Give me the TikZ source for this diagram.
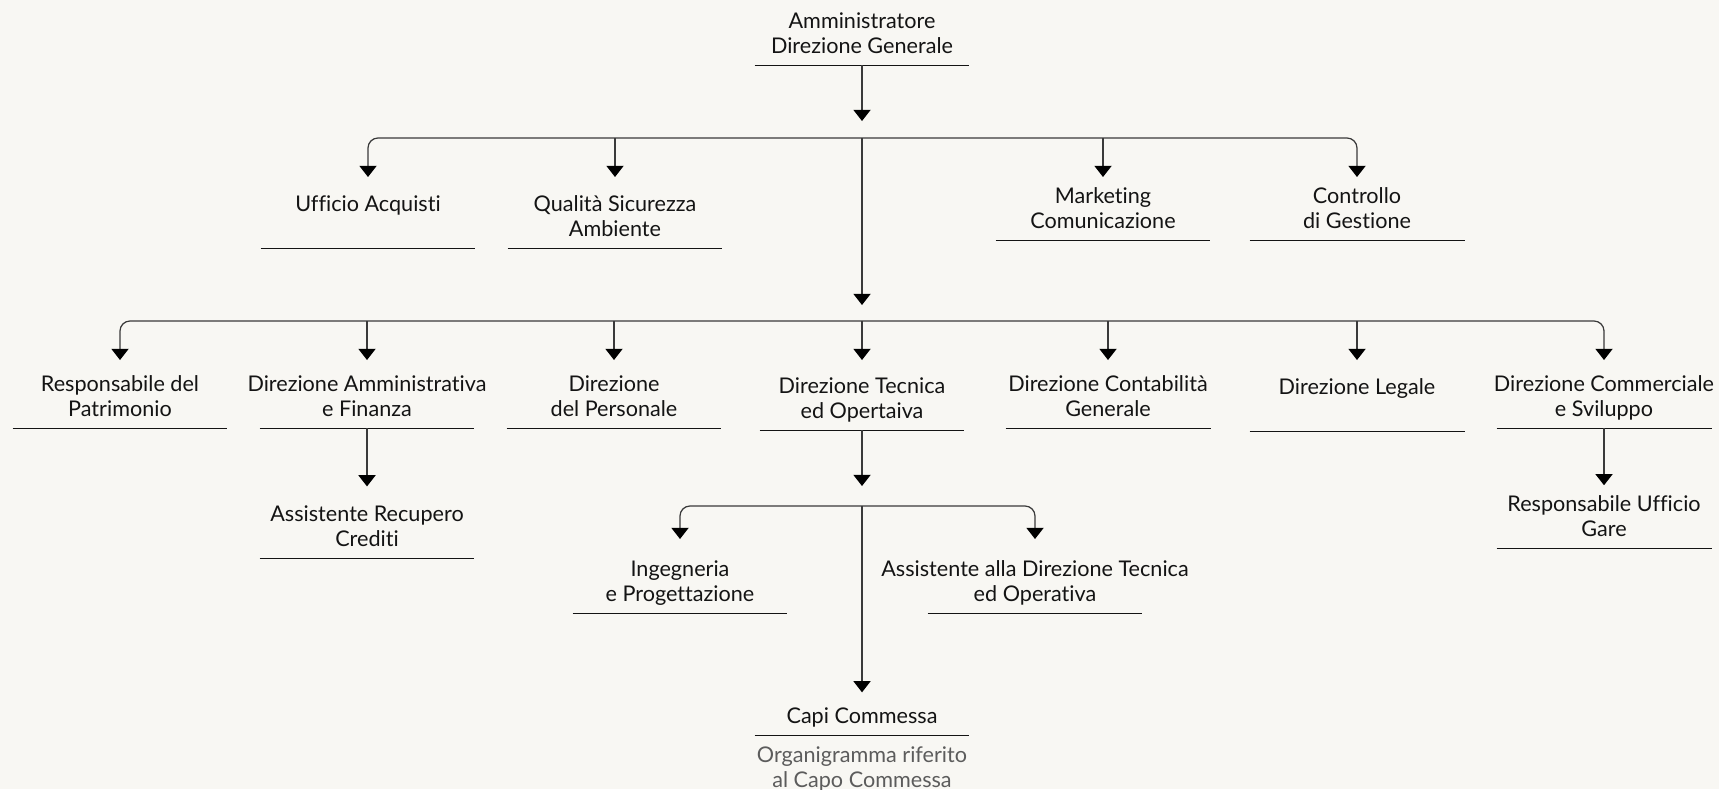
\documentclass[tikz,border=0pt]{standalone}
\usepackage{fontspec}
\setmainfont{Lato}[Ligatures=NoCommon]
\usetikzlibrary{arrows.meta,positioning}
\definecolor{bg}{HTML}{F8F7F3}
\definecolor{ink}{HTML}{141414}
\definecolor{wire}{HTML}{3A3A3A}
\definecolor{soft}{HTML}{5C5C5C}

\begin{document}
\begin{tikzpicture}[x=0.02cm, y=-0.02cm, >={Triangle[width=9.8pt,length=6.4pt,color=black]},
    unit/.style={anchor=south, align=center, minimum width=4.3cm, inner xsep=0pt, inner ysep=2pt,
        font=\fontsize{12.3}{14.5}\selectfont, text=ink, execute at end node=\strut},
    note/.style={align=center, inner sep=0pt, font=\fontsize{12.3}{14}\selectfont, text=soft},
    uline/.style={draw=ink, line width=0.5pt},
    link/.style={draw=wire, line width=0.7pt, ->},
    bus/.style={draw=wire, line width=0.7pt, <->, rounded corners=0.2cm}]

    \path[fill=bg, use as bounding box] (0,0) rectangle (1719,789);

    \node[unit] (top) at (862,65) {Amministratore\\Direzione Generale};

    \node[unit] (ua) at (368,248) {Ufficio Acquisti\\};
    \node[unit] (qs) at (615,248) {Qualità Sicurezza\\Ambiente};
    \node[unit] (mc) at (1103,240) {Marketing\\Comunicazione};
    \node[unit] (cg) at (1357,240) {Controllo\\di Gestione};

    \node[unit] (rp) at (120,428) {Responsabile del\\Patrimonio};
    \node[unit] (da) at (367,428) {Direzione Amministrativa\\e Finanza};
    \node[unit] (dp) at (614,428) {Direzione\\del Personale};
    \node[unit] (dt) at (862,430) {Direzione Tecnica\\ed Opertaiva};
    \node[unit] (dc) at (1108,428) {Direzione Contabilità\\Generale};
    \node[unit] (dl) at (1357,431) {Direzione Legale\\};
    \node[unit] (dco) at (1604,428) {Direzione Commerciale\\e Sviluppo};

    \node[unit] (ar) at (367,558) {Assistente Recupero\\Crediti};
    \node[unit] (rug) at (1604,548) {Responsabile Ufficio\\Gare};

    \node[unit] (ip) at (680,613) {Ingegneria\\e Progettazione};
    \node[unit] (ad) at (1035,613) {Assistente alla Direzione Tecnica\\ed Operativa};
    \node[unit] (cc) at (862,735) {Capi Commessa};
    \node[note, below=6.5pt of cc] (ccn) {Organigramma riferito\\al Capo Commessa};

    \foreach \n/\w in {top/2.15, ua/2.15, qs/2.15, mc/2.15, cg/2.15, rp/2.15, da/2.15, dp/2.15,
        dt/2.05, dc/2.05, dl/2.15, dco/2.15, ar/2.15, rug/2.15, ip/2.15, ad/2.15, cc/2.15}
        \draw[uline] ([xshift=-\w cm]\n.south) -- ([xshift=\w cm]\n.south);

    \coordinate (b1) at (862,138);
    \coordinate (t1) at (862,177);
    \coordinate (b2) at (862,321);
    \coordinate (t2) at (862,360);
    \coordinate (b3) at (862,506);
    \coordinate (t3) at (862,539);

    \draw[link, shorten >=0.34cm] (top) -- (b1);
    \draw[bus] (t1 -| ua) |- (b1 -| cg) -- (t1 -| cg);
    \draw[link] (b1 -| qs) -- (t1 -| qs);
    \draw[link] (b1 -| mc) -- (t1 -| mc);

    \draw[link, shorten >=0.32cm] (b1) -- (b2);
    \draw[bus] (t2 -| rp) |- (b2 -| dco) -- (t2 -| dco);
    \foreach \n in {da, dp, dt, dc, dl}
        \draw[link] (b2 -| \n) -- (t2 -| \n);

    \draw[link, shorten >=0.3cm] (da) -- (ar);
    \draw[link, shorten >=0.12cm] (dco) -- (rug);

    \draw[link, shorten >=0.4cm] (dt) -- (b3);
    \draw[bus] (t3 -| ip) |- (b3 -| ad) -- (t3 -| ad);
    \draw[link, shorten >=0.19cm] (b3) -- (cc);
\end{tikzpicture}
\end{document}
